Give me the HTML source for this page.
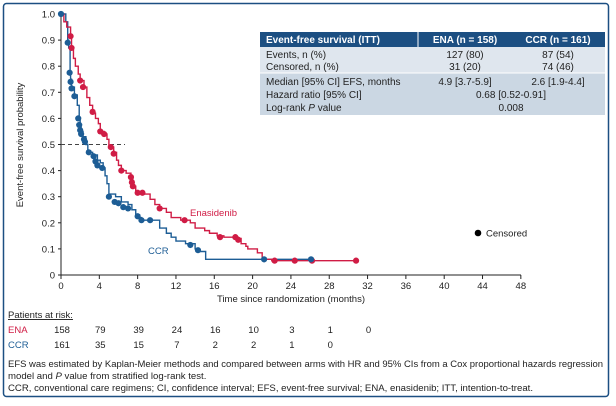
<!DOCTYPE html>
<html><head><meta charset="utf-8"><style>
body{margin:0;background:#fff;font-family:"Liberation Sans",sans-serif;}
svg text{font-family:"Liberation Sans",sans-serif;}
</style></head><body>
<svg id="s" width="616" height="401" viewBox="0 0 616 401" xmlns="http://www.w3.org/2000/svg">
<rect x="3.5" y="3.5" width="605" height="393" rx="3" fill="#fff" stroke="#1c4f82" stroke-width="1.5"/>
<rect x="260" y="32" width="345" height="15" fill="#1c4f82"/>
<rect x="260" y="47" width="345" height="26" fill="#dfe6ee"/>
<rect x="260" y="73" width="345" height="42" fill="#cbd7e3"/>
<line x1="260" y1="73" x2="605" y2="73" stroke="#fff" stroke-width="1"/>
<line x1="418" y1="32" x2="418" y2="47" stroke="#fff" stroke-width="1"/>
<g font-size="10" fill="#fff" font-weight="bold">
<text x="266" y="43">Event-free survival (ITT)</text>
<text x="465" y="43" text-anchor="middle">ENA (n = 158)</text>
<text x="558" y="43" text-anchor="middle">CCR (n = 161)</text>
</g>
<g font-size="10" fill="#222">
<text x="266" y="58">Events, n (%)</text><text x="465" y="58" text-anchor="middle">127 (80)</text><text x="558" y="58" text-anchor="middle">87 (54)</text>
<text x="266" y="70">Censored, n (%)</text><text x="465" y="70" text-anchor="middle">31 (20)</text><text x="558" y="70" text-anchor="middle">74 (46)</text>
<text x="266" y="85">Median [95% CI] EFS, months</text><text x="465" y="85" text-anchor="middle">4.9 [3.7-5.9]</text><text x="558" y="85" text-anchor="middle">2.6 [1.9-4.4]</text>
<text x="266" y="98">Hazard ratio [95% CI]</text><text x="511" y="98" text-anchor="middle">0.68 [0.52-0.91]</text>
<text x="266" y="111">Log-rank <tspan font-style="italic">P</tspan> value</text><text x="511" y="111" text-anchor="middle">0.008</text>
</g>
<g id="axes" stroke="#222" stroke-width="1" fill="none"></g>
<g id="lbl" font-size="9.5" fill="#222"></g>
<text transform="translate(23,145) rotate(-90)" font-size="9.5" fill="#222" text-anchor="middle">Event-free survival probability</text>
<text x="291" y="302" font-size="9.5" fill="#222" text-anchor="middle">Time since randomization (months)</text>
<line x1="61" y1="144.5" x2="125" y2="144.5" stroke="#444" stroke-dasharray="4,3" stroke-width="1"/>
<g id="curves"></g>
<text x="190" y="216" font-size="9.5" fill="#d01c45">Enasidenib</text>
<text x="148" y="254" font-size="9.5" fill="#1d5d95">CCR</text>
<circle cx="478" cy="233" r="3.3" fill="#000"/>
<text x="486" y="236.5" font-size="9.5" fill="#222">Censored</text>
<text x="8" y="318" font-size="9.5" fill="#222" text-decoration="underline">Patients at risk:</text>
<text x="8" y="333" font-size="9.5" fill="#d01c45">ENA</text>
<text x="8" y="348" font-size="9.5" fill="#1d5d95">CCR</text>
<g id="risk" font-size="9.5" fill="#222" text-anchor="middle"></g>
<g font-size="9.6" fill="#222">
<text x="8" y="367" textLength="595" lengthAdjust="spacingAndGlyphs">EFS was estimated by Kaplan-Meier methods and compared between arms with HR and 95% CIs from a Cox proportional hazards regression</text>
<text x="8" y="379">model and <tspan font-style="italic">P</tspan> value from stratified log-rank test.</text>
<text x="8" y="391" textLength="525" lengthAdjust="spacingAndGlyphs">CCR, conventional care regimens; CI, confidence interval; EFS, event-free survival; ENA, enasidenib; ITT, intention-to-treat.</text>
</g>
</svg>
<script>
var NS="http://www.w3.org/2000/svg";
function X(t){return 61+9.58*t}function Y(s){return 275-261*s}
function el(p,n,a,tx){var e=document.createElementNS(NS,n);for(var k in a)e.setAttribute(k,a[k]);if(tx!=null)e.textContent=tx;document.getElementById(p).appendChild(e);return e}
el("axes","line",{x1:61,y1:14,x2:61,y2:275});
el("axes","line",{x1:61,y1:275,x2:521,y2:275});
for(var i=0;i<=10;i++){var y=Y(i/10);el("axes","line",{x1:58,y1:y,x2:61,y2:y});
el("lbl","text",{x:55,y:y+3.5,"text-anchor":"end"},i==0?"0":i==10?"1.0":"0."+i);}
for(var t=0;t<=48;t+=4){var x=X(t);el("axes","line",{x1:x,y1:275,x2:x,y2:279});
el("lbl","text",{x:x,y:289,"text-anchor":"middle"},""+t);}
var ena=[[0,1],[0.3,0.97],[0.6,0.95],[1.0,0.92],[1.1,0.87],[1.3,0.83],[1.5,0.8],[1.8,0.77],[2.0,0.745],[2.4,0.72],[2.7,0.68],[3.0,0.65],[3.3,0.62],[3.6,0.6],[3.9,0.58],[4.1,0.55],[4.5,0.54],[4.8,0.52],[5.0,0.49],[5.5,0.47],[5.8,0.44],[6.0,0.42],[6.3,0.4],[6.8,0.39],[7.3,0.37],[7.5,0.34],[7.8,0.32],[8.5,0.31],[9.3,0.29],[9.8,0.27],[10.3,0.255],[11,0.24],[11.5,0.22],[12.5,0.21],[13.5,0.2],[14,0.18],[15,0.17],[15.5,0.16],[16.3,0.15],[17,0.145],[18.5,0.14],[18.8,0.12],[19.3,0.11],[19.5,0.1],[20.5,0.085],[21,0.06],[22,0.055],[30.8,0.055]];
var ccr=[[0,1],[0.5,0.97],[0.7,0.9],[0.8,0.87],[0.95,0.78],[1.0,0.75],[1.1,0.72],[1.4,0.69],[1.7,0.65],[1.9,0.6],[2.0,0.57],[2.1,0.55],[2.3,0.53],[2.6,0.5],[2.8,0.47],[3.3,0.46],[3.8,0.44],[4.1,0.43],[4.4,0.41],[4.6,0.38],[4.8,0.35],[5.0,0.31],[5.7,0.3],[6.3,0.28],[7.0,0.27],[7.4,0.25],[7.8,0.23],[8.2,0.22],[8.4,0.21],[10.3,0.18],[11,0.16],[11.5,0.145],[12,0.13],[13,0.12],[14,0.1],[14.2,0.09],[15.1,0.06],[26.1,0.06]];
function path(d,c){var s="M"+X(d[0][0])+","+Y(d[0][1]);for(var i=1;i<d.length;i++){s+="H"+X(d[i][0])+"V"+Y(d[i][1]);}
el("curves","path",{d:s,fill:"none",stroke:c,"stroke-width":1.4});}
path(ccr,"#1d5d95");path(ena,"#d01c45");
var ec=[[1,0.915],[1.1,0.87],[2.0,0.745],[2.3,0.72],[3.3,0.625],[4.1,0.55],[4.5,0.54],[5.2,0.49],[5.5,0.465],[6.3,0.4],[7.3,0.375],[7.4,0.355],[7.5,0.34],[8.0,0.315],[8.5,0.315],[10.3,0.255],[12.9,0.21],[16.6,0.145],[18.2,0.145],[18.5,0.135],[22.3,0.055],[24.4,0.055],[26.2,0.055],[30.8,0.055]];
var cc=[[0,1.0],[0.7,0.89],[0.9,0.775],[1.0,0.74],[1.1,0.715],[1.4,0.685],[1.8,0.6],[1.9,0.575],[2.0,0.555],[2.1,0.54],[2.4,0.52],[2.5,0.51],[2.9,0.47],[3.4,0.455],[3.6,0.435],[3.8,0.42],[4.3,0.41],[5.0,0.3],[5.6,0.28],[6.0,0.275],[6.5,0.26],[7.0,0.255],[8.0,0.225],[8.4,0.21],[9.3,0.21],[13.5,0.115],[14.3,0.095],[21.2,0.06],[26.1,0.06]];
ec.forEach(function(p){el("curves","circle",{cx:X(p[0]),cy:Y(p[1]),r:3.1,fill:"#d01c45"})});
cc.forEach(function(p){el("curves","circle",{cx:X(p[0]),cy:Y(p[1]),r:3.1,fill:"#1d5d95"})});
var re=[158,79,39,24,16,10,3,1,0],rc=[161,35,15,7,2,2,1,0];
re.forEach(function(v,i){el("risk","text",{x:X(i*4)+1,y:333},""+v)});
rc.forEach(function(v,i){el("risk","text",{x:X(i*4)+1,y:348},""+v)});
</script>
</body></html>
